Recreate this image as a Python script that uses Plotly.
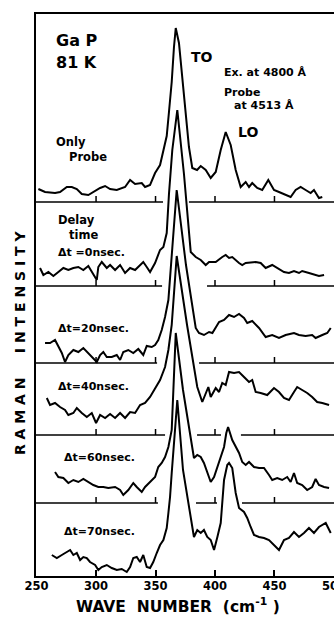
import plotly.graph_objects as go

# ---------------- data (wave number in cm-1, intensity above each trace's own baseline) -------------
wn_probe = [251.5, 257.1, 265.5, 269.7, 275.4, 279.6, 283.8, 288.0, 293.5, 297.7, 303.4, 307.6, 311.8,
            317.4, 324.4, 328.6, 332.8, 338.4, 341.2, 345.4, 349.6, 353.8, 356.6, 359.4, 361.3, 363.6,
            365.5, 367.0, 369.7, 373.9, 378.1, 380.9, 384.9, 388.0, 392.2, 396.4, 400.6, 404.8, 409.0,
            413.2, 417.4, 421.6, 425.8, 428.6, 431.3, 435.5, 439.7, 444.8, 449.6, 453.8, 459.4, 463.6,
            467.8, 472.0, 476.2, 480.4, 483.2, 487.4, 490.2]
int_probe = [13, 10, 9, 10, 15, 15, 13, 8, 7, 10, 14, 16, 13,
             12, 15, 22, 18, 19, 15, 17, 29, 37, 50, 66, 90, 120,
             155, 174, 159, 107, 55, 34, 32, 36, 32, 24, 30, 52, 70,
             57, 32, 15, 20, 15, 19, 14, 12, 22, 12, 10, 7, 5,
             12, 15, 12, 9, 12, 4, 5]

wn_0 = [252.9, 255.7, 259.9, 264.1, 268.3, 272.5, 276.7, 280.9, 285.1, 289.3, 293.5, 296.4, 300.6,
        301.9, 304.8, 309.0, 311.8, 316.0, 320.2, 324.4, 328.6, 332.8, 337.0, 339.7, 342.6, 345.4,
        349.6, 353.8, 356.6, 359.4, 361.3, 364.1, 368.3, 373.9, 379.6, 383.8, 388.0, 392.2, 395.0,
        400.6, 406.1, 409.0, 411.8, 414.5, 420.2, 422.9, 425.8, 434.2, 438.4, 442.6, 448.1, 452.3,
        458.0, 462.2, 466.4, 470.6, 473.3, 479.0, 484.6, 487.4, 491.7]
int_0 = [18, 11, 14, 10, 14, 18, 16, 18, 19, 16, 20, 14, 6,
         19, 24, 18, 21, 16, 21, 13, 18, 16, 21, 24, 19, 14,
         23, 36, 39, 53, 92, 136, 176, 112, 34, 29, 26, 21, 24,
         24, 29, 31, 28, 29, 23, 21, 23, 24, 23, 18, 21, 18,
         14, 13, 15, 13, 15, 13, 11, 10, 11]

wn_20 = [257.1, 261.3, 265.5, 268.3, 271.2, 273.9, 276.7, 280.9, 285.1, 289.3, 293.5, 297.7, 300.6,
         303.4, 306.1, 309.0, 313.2, 317.4, 320.2, 322.9, 327.1, 331.3, 335.5, 339.7, 342.6, 346.8,
         349.6, 352.3, 355.2, 358.0, 360.8, 364.1, 367.8, 375.6, 383.8, 386.5, 390.7, 395.0, 397.8,
         403.4, 407.6, 411.8, 416.0, 420.2, 424.4, 427.1, 431.3, 437.0, 442.6, 448.1, 453.8, 459.4,
         466.4, 470.6, 476.2, 481.7, 484.6, 490.2, 494.4, 497.3]
int_20 = [20, 20, 23, 16, 10, 1, 8, 13, 11, 15, 10, 5, 1,
          8, 11, 6, 6, 8, 3, 11, 13, 10, 14, 8, 17, 16,
          18, 23, 33, 46, 63, 115, 173, 98, 35, 30, 28, 31, 30,
          41, 43, 48, 46, 49, 45, 40, 42, 35, 26, 28, 25, 28,
          30, 28, 27, 28, 25, 28, 30, 35]

wn_40 = [258.6, 261.3, 265.5, 269.7, 273.9, 276.7, 280.9, 283.8, 288.0, 292.2, 296.4, 300.0, 303.4,
         307.6, 311.8, 316.0, 320.2, 324.4, 328.6, 332.8, 337.0, 341.2, 345.4, 349.6, 353.8, 358.0,
         360.8, 363.6, 366.0, 367.8, 376.5, 385.1, 389.3, 392.2, 394.4, 396.4, 400.6, 403.4, 406.1,
         409.0, 411.8, 416.0, 420.2, 424.4, 428.6, 431.3, 434.2, 438.4, 443.9, 449.6, 453.8, 458.0,
         462.2, 466.4, 469.1, 473.3, 477.5, 481.7, 485.9, 490.2, 495.9]
int_40 = [37, 30, 32, 28, 25, 20, 22, 27, 22, 18, 22, 12, 20,
          17, 21, 17, 22, 17, 23, 22, 30, 32, 38, 47, 55, 68,
          85, 110, 150, 179, 110, 48, 33, 42, 48, 38, 47, 43, 52,
          50, 63, 62, 63, 58, 53, 55, 43, 42, 40, 47, 43, 37,
          35, 43, 48, 45, 42, 38, 33, 32, 30]

wn_60 = [265.5, 268.3, 272.5, 276.7, 280.9, 285.1, 289.3, 293.5, 297.7, 301.9, 306.1, 310.3, 316.0,
         320.2, 322.9, 327.1, 331.3, 334.2, 338.4, 341.2, 345.4, 349.6, 352.3, 355.2, 358.0, 360.8,
         363.6, 365.3, 367.0, 373.1, 382.3, 385.1, 388.0, 390.7, 393.5, 396.4, 399.2, 403.4, 407.6,
         409.5, 411.0, 414.5, 417.4, 420.2, 422.9, 425.8, 428.6, 432.8, 437.0, 441.2, 445.4, 448.1,
         452.3, 456.5, 460.7, 463.6, 466.4, 469.1, 473.3, 477.5, 481.7, 484.6, 487.4, 491.7, 495.9]
int_60 = [31, 26, 25, 20, 23, 21, 24, 21, 18, 16, 16, 15, 16,
          13, 8, 13, 20, 16, 11, 16, 21, 26, 36, 40, 46, 56,
          73, 125, 170, 113, 45, 48, 46, 40, 31, 21, 26, 41, 56,
          70, 76, 63, 56, 50, 41, 38, 41, 36, 35, 35, 28, 23,
          25, 23, 26, 21, 30, 20, 18, 13, 16, 24, 18, 16, 15]

wn_70 = [262.8, 267.0, 271.2, 275.4, 278.2, 280.9, 283.8, 286.6, 289.3, 292.2, 294.9, 299.2, 301.9,
         304.8, 309.0, 313.2, 317.4, 321.6, 325.8, 328.6, 331.3, 334.2, 337.0, 339.7, 342.6, 345.4,
         348.1, 351.0, 353.8, 356.6, 359.4, 360.8, 362.2, 363.6, 364.9, 368.3, 373.1, 382.3, 385.1,
         388.0, 390.7, 393.5, 396.4, 399.2, 402.0, 404.8, 407.6, 410.3, 411.8, 414.5, 417.4, 420.2,
         424.4, 427.1, 430.0, 432.8, 437.0, 441.2, 445.4, 449.6, 453.8, 458.0, 462.2, 466.4, 470.6,
         474.8, 479.0, 483.2, 487.4, 493.1, 497.3]
int_70 = [21, 18, 21, 24, 26, 21, 23, 16, 19, 18, 14, 11, 6,
          9, 11, 8, 6, 7, 4, 9, 18, 19, 14, 21, 9, 8,
          14, 23, 31, 36, 48, 63, 79, 103, 126, 176, 106, 39, 46,
          43, 46, 39, 36, 26, 39, 53, 96, 111, 113, 108, 83, 68,
          64, 58, 49, 41, 39, 38, 36, 31, 26, 36, 38, 44, 39,
          43, 48, 43, 49, 53, 43]

spectra_wn = [wn_probe, wn_0, wn_20, wn_40, wn_60, wn_70]
spectra_int = [int_probe, int_0, int_20, int_40, int_60, int_70]
stack_offsets = [374, 290, 213, 141, 73, 0]          # vertical shift of each trace
tick_vals = [250, 300, 350, 400, 450, 500]
panel_ticks = [300, 350, 400, 450]
# baseline pieces (cm-1) of the five upper traces; gaps where other curves pass through
baseline_pieces = [
    [(249.5, 356.3), (378.1, 500.1)],
    [(249.5, 355.5), (393.3, 500.1)],
    [(249.5, 351.3), (386.6, 500.1)],
    [(249.5, 358.0), (384.9, 405.0), (421.8, 500.1)],
    [(249.5, 352.0), (384.0, 401.7), (422.7, 500.1)],
]

FONT = "DejaVu Sans"
fig = go.Figure()
for wn, inten, off in zip(spectra_wn, spectra_int, stack_offsets):
    fig.add_trace(go.Scatter(x=wn, y=[v + off for v in inten], mode="lines",
                             line=dict(color="black", width=2), showlegend=False,
                             hoverinfo="skip"))

shapes = []
for pieces, off in zip(baseline_pieces, stack_offsets[:5]):
    for a, b in pieces:
        shapes.append(dict(type="line", xref="x", yref="y", x0=a, x1=b, y0=off, y1=off,
                           line=dict(color="black", width=1.5)))
        for t in panel_ticks:
            if a < t < b:
                shapes.append(dict(type="line", xref="x", yref="y", x0=t, x1=t, y0=off, y1=off + 6,
                                   line=dict(color="black", width=1.5)))


def lab(text, x, y, size, anchor="left"):
    return dict(text=text, x=x, y=y, xref="x", yref="y", showarrow=False, xanchor=anchor,
                yanchor="middle", font=dict(family=FONT, size=size, color="black", weight="bold"))


annotations = [
    lab("Ga P", 264.5, 536, 16),
    lab("81 K", 264.5, 514, 16),
    lab("TO", 378.0, 519, 14),
    lab("Ex. at 4800 Å", 405.5, 504, 11),
    lab("Probe", 405.5, 484, 11),
    lab("at 4513 Å", 414.0, 471, 11),
    lab("LO", 417.5, 444, 14),
    lab("Only", 264.5, 434, 11.5),
    lab("Probe", 275.5, 419, 11.5),
    lab("Delay", 266.0, 356, 11.5),
    lab("time", 275.5, 341, 11.5),
    lab("Δt =0nsec.", 266.0, 324, 11),
    lab("Δt=20nsec.", 266.0, 248, 11),
    lab("Δt=40nsec.", 266.0, 190, 11),
    lab("Δt=60nsec.", 271.0, 119, 11),
    lab("Δt=70nsec.", 271.0, 45, 11),
    dict(text="R A M A N\u00a0\u00a0\u00a0\u00a0\u00a0I N T E N S I T Y", x=-0.054, y=0.416,
         xref="paper", yref="paper", textangle=-90, showarrow=False, xanchor="center",
         yanchor="middle", font=dict(family=FONT, size=14, color="black", weight="bold")),
    dict(text="WAVE\u00a0\u00a0NUMBER\u00a0\u00a0(cm<sup>-1</sup>\u00a0)", x=0.4765, y=-0.053,
         xref="paper", yref="paper", showarrow=False, xanchor="center", yanchor="middle",
         font=dict(family=FONT, size=15.5, color="black", weight="bold")),
]

fig.update_layout(
    width=334, height=617,
    margin=dict(l=36, r=0, t=14, b=41),
    paper_bgcolor="white", plot_bgcolor="white",
    shapes=shapes, annotations=annotations,
    xaxis=dict(range=[249.5, 500.05], tickvals=tick_vals, ticktext=[str(v) for v in tick_vals],
               ticks="inside", ticklen=6, tickwidth=1.5, tickcolor="black",
               showline=True, linecolor="black", linewidth=2, mirror=True,
               showgrid=False, zeroline=False, automargin=False,
               ticklabeloverflow="allow", ticklabelstandoff=-2,
               tickfont=dict(family=FONT, size=11.5, color="black", weight="bold")),
    yaxis=dict(range=[0, 562], showticklabels=False, ticks="", showline=True, linecolor="black",
               linewidth=1.5, mirror=True, showgrid=False, zeroline=False, automargin=False),
)

fig.write_html("out.html")
